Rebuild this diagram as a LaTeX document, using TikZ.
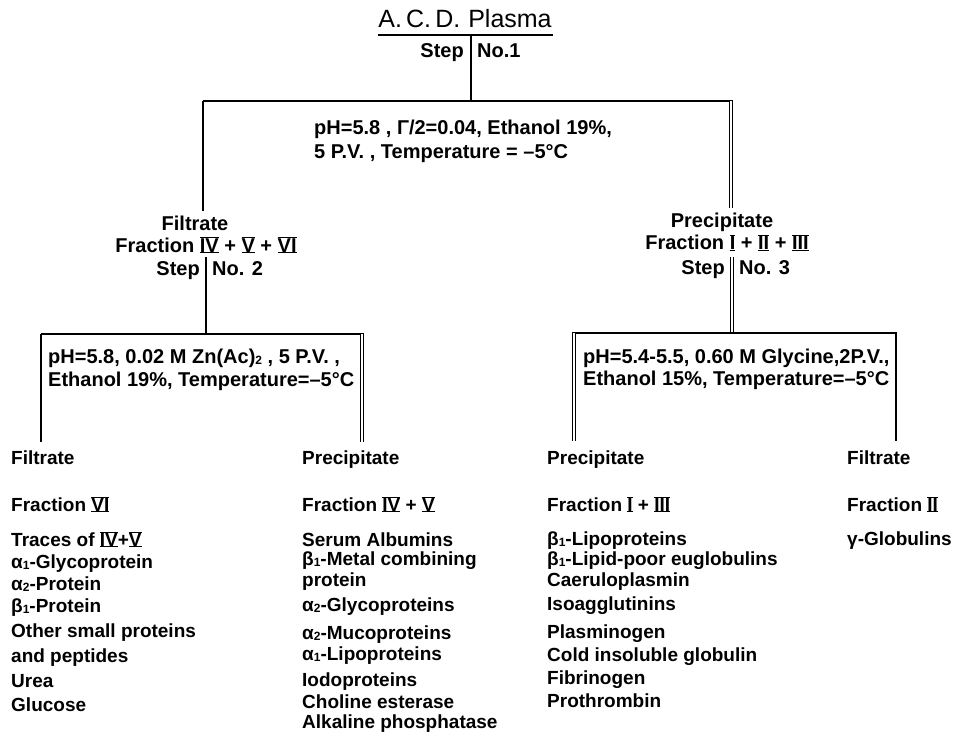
\documentclass[tikz,border=0pt]{standalone}
\usepackage{fontspec}
\setmainfont{Liberation Sans}
\newsavebox\rnbox
\newcommand\rn[1]{\sbox\rnbox{#1}\rlap{\rule[-1.4pt]{\wd\rnbox}{1.4pt}}\rlap{\rule[\ht\rnbox]{\wd\rnbox}{1.4pt}}\usebox\rnbox}
\newcommand\sbs[1]{\raisebox{-1.5pt}{\fontsize{12}{12}\selectfont\bfseries #1}}
\tikzset{
  lbl/.style={inner sep=0pt, font=\fontsize{20}{24}\selectfont\bfseries},
  lw/.style={lbl, anchor=base west},
  lc/.style={lbl, anchor=base},
  le/.style={lbl, anchor=base east},
  it/.style={lw, font=\fontsize{19}{23}\selectfont\bfseries},
  ln/.style={line width=1.5pt},
  dbl/.style={double, double distance=2pt, line width=1pt},
}
\begin{document}
\begin{tikzpicture}[x=1pt,y=-1pt]
\useasboundingbox (0,0) rectangle (954,733);
\fill[white] (0,0) rectangle (954,733);
% title
\node[inner sep=0pt, font=\fontsize{25}{30}\selectfont, anchor=base] (title) at (465,28) {A.\,C.\,D.\hspace{8pt}Plasma};
\coordinate (ulL) at (378,35);
\coordinate (ulR) at (553,35);
\coordinate (top) at (471,35);
\draw[ln] (ulL) -- (ulR);
\node[le] (step1) at (464,58) {Step};
\node[lw] (no1) at (477,58) {No.1};
% first split
\coordinate (sp1) at (471,101);
\coordinate (c1l) at (203,101);
\coordinate (c1r) at (733,101);
\coordinate (c1rv) at (731,101);
\coordinate (d1) at (203,211);
\coordinate (d2) at (731,208);
\draw[ln] (top) -- (sp1);
\draw[ln] (c1l) -- (c1r);
\draw[ln] (c1l) -- (d1);
\draw[dbl] (c1rv) -- (d2);
\node[lw] (cond1a) at (314,135) {pH=5.8 , Γ/2=0.04, Ethanol 19\%,};
\node[lw] (cond1b) at (314,159) {5 P.V. , Temperature = –5°C};
% left branch
\node[lc] (filt2) at (195,230) {Filtrate};
\node[lc] (frac2) at (206,252) {Fraction \rn{IV} + \rn{V} + \rn{VI}};
\node[le] (step2) at (200,276) {Step};
\node[lw] (no2) at (212,276) {No. 2};
\coordinate (s2t) at (206,257);
\coordinate (s2b) at (206,334);
\draw[ln] (s2t) -- (s2b);
% right branch
\node[lc] (prec3) at (722,228) {Precipitate};
\node[lc] (frac3) at (727,250) {Fraction \rn{I} + \rn{II} + \rn{III}};
\node[le] (step3) at (725,274) {Step};
\node[lw] (no3) at (739,274) {No. 3};
\coordinate (s3t) at (732,257);
\coordinate (s3b) at (732,333);
\draw[dbl] (s3t) -- (s3b);
% left box
\coordinate (b1l) at (41,334);
\coordinate (b1r) at (364,334);
\coordinate (b1rv) at (362,334);
\coordinate (b1lb) at (41,442);
\coordinate (b1rb) at (362,442);
\draw[ln] (b1l) -- (b1r);
\draw[ln] (b1l) -- (b1lb);
\draw[dbl] (b1rv) -- (b1rb);
\node[lw] (cond2a) at (48,363) {pH=5.8, 0.02 M Zn(Ac)\sbs{2} , 5 P.V. ,};
\node[lw] (cond2b) at (48,386) {Ethanol 19\%, Temperature=–5°C};
% right box
\coordinate (b2l) at (572,333);
\coordinate (b2lv) at (574,333);
\coordinate (b2r) at (897,333);
\coordinate (b2rv) at (896,333);
\coordinate (b2lb) at (574,441);
\coordinate (b2rb) at (896,441);
\draw[ln] (b2l) -- (b2r);
\draw[dbl] (b2lv) -- (b2lb);
\draw[ln] (b2rv) -- (b2rb);
\node[lw] (cond3a) at (583,363) {pH=5.4-5.5, 0.60 M Glycine,2P.V.,};
\node[lw] (cond3b) at (583,385) {Ethanol 15\%, Temperature=–5°C};
% column 1
\node[it] (c1a) at (11,464) {Filtrate};
\node[it] (c1b) at (11,511) {Fraction \rn{VI}};
\node[it] (c1c) at (11,546) {Traces of \rn{IV}+\rn{V}};
\node[it] (c1d) at (11,568) {α\sbs{1}-Glycoprotein};
\node[it] (c1e) at (11,590) {α\sbs{2}-Protein};
\node[it] (c1f) at (11,612) {β\sbs{1}-Protein};
\node[it] (c1g) at (11,637) {Other small proteins};
\node[it] (c1h) at (11,662) {and peptides};
\node[it] (c1i) at (11,687) {Urea};
\node[it] (c1j) at (11,711) {Glucose};
% column 2
\node[it] (c2a) at (302,464) {Precipitate};
\node[it] (c2b) at (302,511) {Fraction \rn{IV} + \rn{V}};
\node[it] (c2c) at (302,546) {Serum Albumins};
\node[it] (c2d) at (302,565) {β\sbs{1}-Metal combining};
\node[it] (c2e) at (302,586) {protein};
\node[it] (c2f) at (302,611) {α\sbs{2}-Glycoproteins};
\node[it] (c2g) at (302,639) {α\sbs{2}-Mucoproteins};
\node[it] (c2h) at (302,660) {α\sbs{1}-Lipoproteins};
\node[it] (c2i) at (302,686) {Iodoproteins};
\node[it] (c2j) at (302,708) {Choline esterase};
\node[it] (c2k) at (302,728) {Alkaline phosphatase};
% column 3
\node[it] (c3a) at (547,464) {Precipitate};
\node[it] (c3b) at (547,511) {Fraction \rn{I} + \rn{III}};
\node[it] (c3c) at (547,545) {β\sbs{1}-Lipoproteins};
\node[it] (c3d) at (547,565) {β\sbs{1}-Lipid-poor euglobulins};
\node[it] (c3e) at (547,586) {Caeruloplasmin};
\node[it] (c3f) at (547,610) {Isoagglutinins};
\node[it] (c3g) at (547,638) {Plasminogen};
\node[it] (c3h) at (547,661) {Cold insoluble globulin};
\node[it] (c3i) at (547,684) {Fibrinogen};
\node[it] (c3j) at (547,707) {Prothrombin};
% column 4
\node[it] (c4a) at (847,464) {Filtrate};
\node[it] (c4b) at (847,511) {Fraction \rn{II}};
\node[it] (c4c) at (847,545) {γ-Globulins};
\end{tikzpicture}
\end{document}
